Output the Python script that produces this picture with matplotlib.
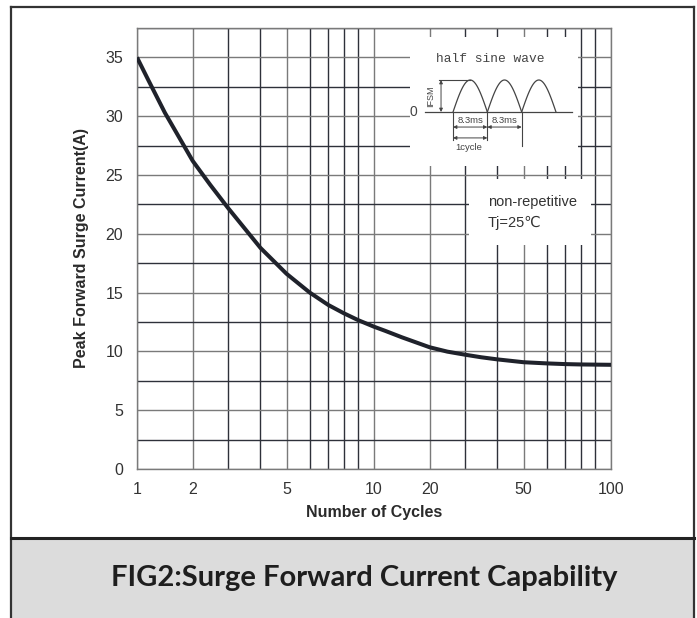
import numpy as np
import matplotlib
matplotlib.use("Agg")
import matplotlib.pyplot as plt
from matplotlib.patches import Rectangle
from matplotlib.lines import Line2D

# data
cycles = [1, 1.2, 1.5, 2, 2.5, 3, 3.5, 4, 5, 6, 7, 8, 9, 10, 12, 15, 20, 25, 30, 35,
          40, 50, 60, 70, 80, 100]
current = [35, 33.1, 30.3, 26.2, 24.15, 22.2, 20.5, 18.8, 16.6, 15.0, 13.95, 13.25, 12.65,
           12.1, 11.75, 11.2, 10.35, 9.98, 9.72, 9.5, 9.32, 9.08, 8.98, 8.92, 8.89, 8.86]
xticks = [1, 2, 5, 10, 20, 50, 100]
yticks = [0, 5, 10, 15, 20, 25, 30, 35]

# the chart paper uses a distorted log ruling inside each decade
MANT = [1, 2, 3, 4, 5, 6, 7, 8, 9, 10]
FRAC = [0, 0.235, 0.384, 0.521, 0.631, 0.729, 0.807, 0.872, 0.934, 1.0]

def fwd(x):
    x = np.clip(np.asarray(x, float), 1e-9, None)
    d = np.floor(np.log10(x) + 1e-12)
    m = x / 10.0**d
    return d + np.interp(m, MANT, FRAC)

def inv(y):
    y = np.asarray(y, float)
    d = np.floor(y + 1e-12)
    return np.interp(y - d, FRAC, MANT) * 10.0**d

plt.rcParams['font.family'] = ['Liberation Sans', 'DejaVu Sans']
W, H = 697, 618
fig = plt.figure(figsize=(W/100, H/100), dpi=100)

# frame and caption panel
fig.patches.append(Rectangle((11/W, 0), (694-11)/W, (618-538)/H, transform=fig.transFigure,
                             facecolor="#dcdcdc", edgecolor="none", zorder=0))
for xs, ys in [([11/W, 11/W], [0, 1-7/H]), ([694/W, 694/W], [0, 1-7/H]),
               ([11/W, 694/W], [1-7/H, 1-7/H])]:
    fig.lines.append(Line2D(xs, ys, transform=fig.transFigure, color="#333333", lw=1.6))
fig.lines.append(Line2D([11/W, 694/W], [1-538/H]*2, transform=fig.transFigure,
                        color="#222222", lw=2.2))
fig.text(0.523, 1-578/H, "FIG2:Surge Forward Current Capability", family=["Lato", "DejaVu Sans"],
         fontweight="bold", fontsize=21, color="#1e1e1e", ha="center", va="center")

ax = fig.add_axes([137/W, 1-469/H, (611-137)/W, (469-28)/H])
ax.set_xscale("function", functions=(fwd, inv))
ax.set_xlim(1, 100)
ax.set_ylim(0, 37.5)
ax.set_xticks(xticks, [str(t) for t in xticks])
ax.set_xticks([m * 10**d for d in (0, 1) for m in range(2, 10)], minor=True)
ax.set_yticks(yticks)
ax.set_yticks(np.arange(2.5, 37.6, 5), minor=True)
ax.tick_params(which="both", length=0, labelsize=11.5, labelcolor="#333333")
ax.tick_params(axis="x", pad=9)
ax.tick_params(axis="y", pad=10)
ax.grid(which="major", color="#7a7a7a", lw=1.0)
ax.grid(which="minor", color="#2e313a", lw=1.0)
ax.set_axisbelow(True)
for s in ax.spines.values():
    s.set_color("#7a7a7a")
    s.set_linewidth(1.0)

ax.plot(cycles, current, color="#1f222b", lw=2.9, solid_capstyle="butt",
        solid_joinstyle="round", zorder=5)

ax.set_xlabel("Number of Cycles", fontsize=11.5, fontweight="bold", color="#2a2a2a", labelpad=6)
ax.set_ylabel("Peak Forward Surge Current(A)", fontsize=11.5, fontweight="bold",
              color="#2a2a2a", labelpad=12)

# white panels hiding the grid behind the annotations
ax.add_patch(Rectangle((0.577, 0.687), 0.353, 0.292, transform=ax.transAxes,
                       facecolor="white", edgecolor="none", zorder=3))
ax.add_patch(Rectangle((0.70, 0.509), 0.258, 0.149, transform=ax.transAxes,
                       facecolor="white", edgecolor="none", zorder=3))
ax.text(0.740, 0.605, "non-repetitive", transform=ax.transAxes, fontsize=10.5,
        color="#333333", va="center", ha="left", zorder=4)
ax.text(0.740, 0.558, "Tj=25\u2103", transform=ax.transAxes, fontsize=10.5,
        color="#333333", va="center", ha="left", zorder=4)

# half sine wave sketch, units: one half cycle wide, peak = 1
ins = fig.add_axes([405/W, 1-160/H, 175/W, 120/H])
ins.set_xlim(-1.4, 3.7)
ins.set_ylim(-1.5, 2.25)
ins.axis("off")
k = "#444444"
ins.text(1.07, 1.66, "half sine wave", family=["Liberation Mono", "DejaVu Sans Mono"],
         fontsize=9.3, color=k, ha="center", va="center")
ins.plot([-0.82, 3.47], [0, 0], color=k, lw=0.9)
ins.text(-1.17, 0, "0", fontsize=10, color=k, ha="center", va="center")
t = np.linspace(0, 1, 60)
for i in range(3):
    ins.plot(i + t, np.sin(np.pi * t), color=k, lw=0.9)
ins.plot([-0.4, 0.5], [1, 1], color=k, lw=0.8)
ins.annotate("", xy=(-0.35, 1), xytext=(-0.35, 0),
             arrowprops=dict(arrowstyle="<|-|>", color=k, lw=0.7, mutation_scale=5, shrinkA=0, shrinkB=0))
ins.text(-0.64, 0.5, "IFSM", rotation=90, fontsize=6.5, color=k, ha="center", va="center")
for x0, y1 in [(0, -0.875), (1, -0.875), (2, -1.06)]:
    ins.plot([x0, x0], [0, y1], color=k, lw=0.8)
for a, b, yy in [(0, 1, -0.47), (1, 2, -0.47), (0, 1, -0.81)]:
    ins.annotate("", xy=(b, yy), xytext=(a, yy),
                 arrowprops=dict(arrowstyle="<|-|>", color=k, lw=0.7, mutation_scale=5, shrinkA=0, shrinkB=0))
ins.text(0.5, -0.26, "8.3ms", fontsize=6.8, color=k, ha="center", va="center")
ins.text(1.5, -0.26, "8.3ms", fontsize=6.8, color=k, ha="center", va="center")
ins.text(0.45, -1.1, "1cycle", fontsize=6.8, color=k, ha="center", va="center")

fig.savefig("out.png", dpi=100)
